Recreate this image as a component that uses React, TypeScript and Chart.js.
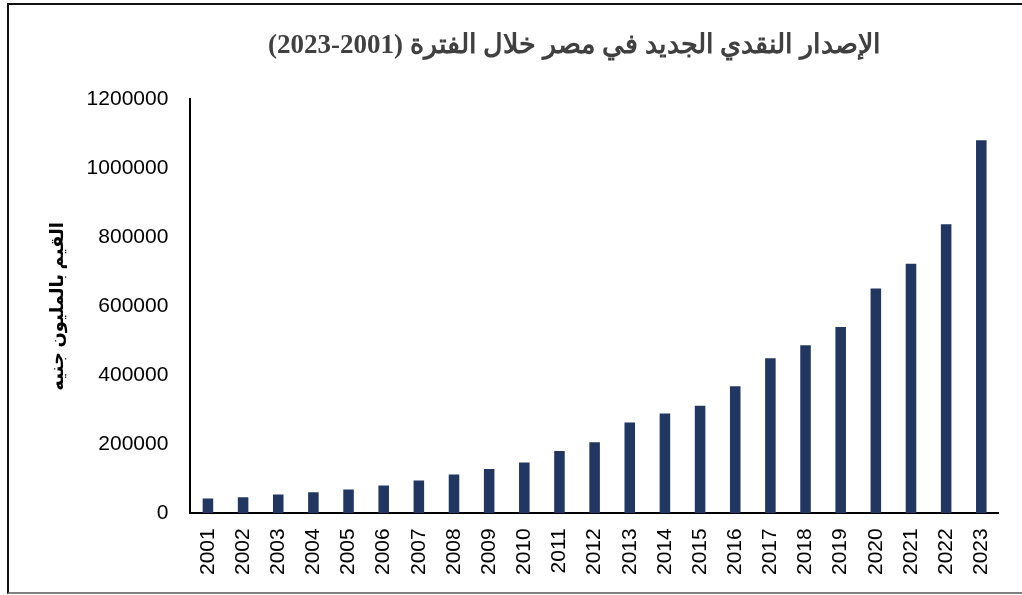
import React, { useEffect, useRef } from "react";
import { Chart, registerables } from "chart.js";

Chart.register(...registerables);

const years: string[] = [
  "2001", "2002", "2003", "2004", "2005", "2006", "2007", "2008", "2009", "2010", "2011", "2012",
  "2013", "2014", "2015", "2016", "2017", "2018", "2019", "2020", "2021", "2022", "2023",
];

const issuance: number[] = [
  43000, 46600, 54400, 61200, 69000, 80600, 95200, 112700, 128200, 147600, 180600, 205900,
  263000, 289300, 311700, 368000, 449500, 487300, 539800, 651600, 723300, 838100, 1081600,
];

const titleText = "الإصدار النقدي الجديد في مصر خلال الفترة (2001-2023)";
const yAxisTitle = "القيم بالمليون جنيه";

const yMin = 0;
const yMax = 1200000;
const yStep = 200000;

const barColor = "#213762";
const titleShift = 20;

const titleShiftPlugin = {
  id: "titleShift",
  afterLayout(chart: any) {
    const tb = chart.titleBlock;
    if (tb) {
      tb.left -= titleShift;
      tb.right -= titleShift;
    }
  },
};

export default function App() {
  const canvasRef = useRef<HTMLCanvasElement | null>(null);

  useEffect(() => {
    document.body.style.overflow = "hidden";
    const canvas = canvasRef.current;
    if (!canvas) return;
    const chart = new Chart(canvas, {
      type: "bar",
      data: {
        labels: years,
        datasets: [
          {
            data: issuance,
            backgroundColor: barColor,
            borderWidth: 0,
            barPercentage: 0.3,
            categoryPercentage: 1,
          },
        ],
      },
      plugins: [titleShiftPlugin],
      options: {
        animation: false,
        responsive: true,
        maintainAspectRatio: false,
        layout: { padding: { left: 0, right: 21, top: 0, bottom: 5 } },
        plugins: {
          legend: { display: false },
          tooltip: { enabled: false },
          title: {
            display: true,
            fullSize: false,
            text: titleText,
            color: "#404040",
            font: { family: "'Liberation Serif', 'DejaVu Serif', serif", size: 27, weight: "bold", lineHeight: 1.2 },
            padding: { top: 30, bottom: 37 },
          },
        },
        scales: {
          x: {
            offset: true,
            grid: { display: false, drawTicks: false },
            border: { display: true, color: "#000000", width: 2 },
            ticks: {
              color: "#000000",
              font: { family: "'Liberation Sans', Arial, sans-serif", size: 21 },
              minRotation: 90,
              maxRotation: 90,
              autoSkip: false,
              padding: 15,
            },
          },
          y: {
            min: yMin,
            max: yMax,
            grid: { display: false, drawTicks: false },
            border: { display: true, color: "#000000", width: 2 },
            ticks: {
              stepSize: yStep,
              color: "#000000",
              font: { family: "'Liberation Sans', Arial, sans-serif", size: 21 },
              padding: 22,
              callback: (v: any) => String(v),
            },
            title: {
              display: true,
              text: yAxisTitle,
              color: "#000000",
              font: { family: "'Liberation Serif', 'DejaVu Sans', serif", size: 18, weight: "bold", lineHeight: 1.2 },
              padding: { top: 48, bottom: -5 },
            },
          },
        },
      },
    });
    return () => chart.destroy();
  }, []);

  return (
    <div style={{ position: "absolute", left: 0, top: 0, width: 1022, height: 595, background: "#ffffff", overflow: "hidden" }}>
      <div
        style={{
          position: "absolute",
          left: 7,
          top: 3,
          width: 1015,
          height: 591,
          boxSizing: "border-box",
          borderLeft: "2px solid #111111",
          borderTop: "2px solid #111111",
          borderBottom: "2px solid #808080",
        }}
      />
      <div style={{ position: "absolute", left: 0, top: 0, width: 1022, height: 595 }}>
        <canvas ref={canvasRef} dir="rtl" />
      </div>
    </div>
  );
}
